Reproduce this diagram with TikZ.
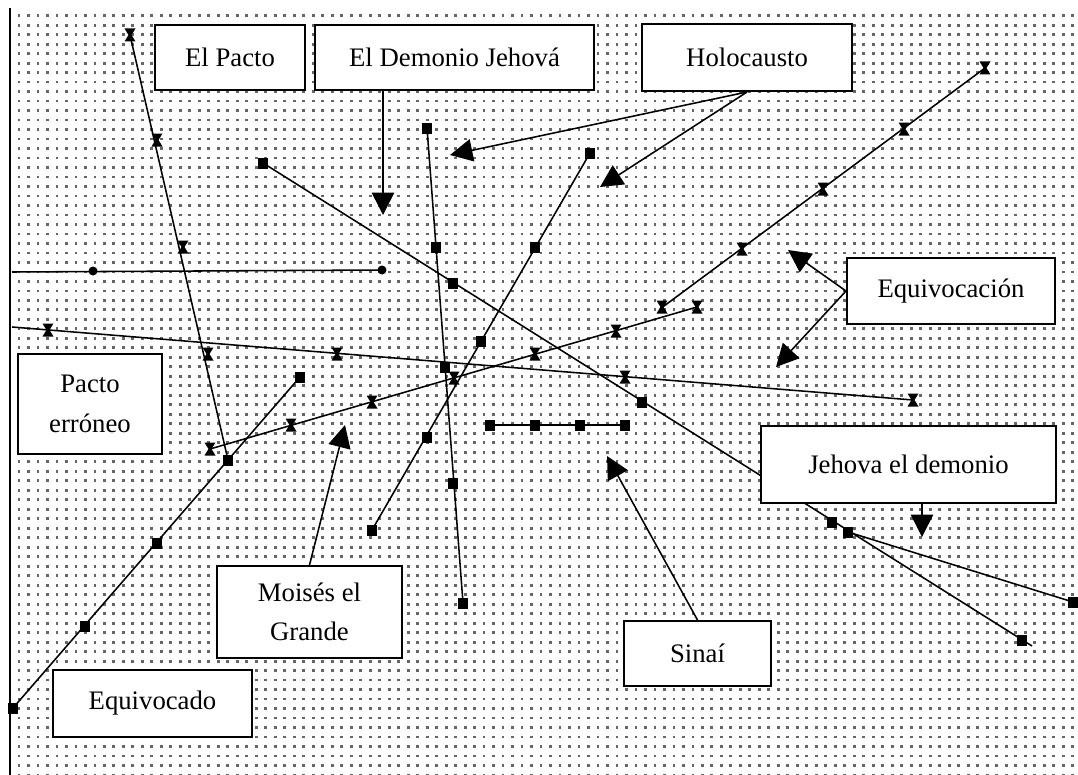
\documentclass[tikz,border=0pt]{standalone}
\usepackage{fontspec}
\setmainfont{Liberation Serif}
\usetikzlibrary{positioning, arrows.meta, patterns.meta}

\tikzdeclarepattern{
  name=griddots, type=uncolored,
  bottom left={(-1.2pt,-1.2pt)}, top right={(1.2pt,1.2pt)},
  tile size={(6.75pt,6.75pt)},
  code={\fill (-1pt,-1pt) rectangle (1pt,1pt);}
}

\begin{document}
\begin{tikzpicture}[
    x=0.025cm, y=-0.025cm,
    tagbox/.style={rectangle, draw, line width=1.4pt, fill=white, inner sep=0pt,
                   font=\fontsize{19}{28}\selectfont, align=center},
    arrow/.style={-{Triangle[length=16pt, width=16pt]}, line width=1.1pt},
    series/.style={line width=1.1pt},
    sqmark/.pic={\fill (-5,-5.5) rectangle (5,5.5);},
    hgmark/.pic={\fill (-5.5,-6.5) -- (5.5,-6.5) -- (1.5,0) -- (5.5,6.5) -- (-5.5,6.5) -- (-1.5,0) -- cycle;},
    dotmark/.pic={\fill (0,0) circle (4.5);},
]

%% BACKGROUND
    \useasboundingbox (0,0) rectangle (1078,775);
    \fill[white] (0,0) rectangle (1078,775);
    \fill[pattern=griddots, pattern color=black!60] (12,9) rectangle (1078,775);
    \draw[line width=1.4pt] (10,8) -- (10,775);

%% SERIES
    % falling line from the top left
    \draw[series] (130,35) -- (228,460);
    \foreach \x/\y in {130/35, 157/140, 183/247, 208/354}
        \pic at (\x,\y) {hgmark};

    % rising line from the bottom left
    \draw[series] (13,708) -- (300,377);
    \foreach \x/\y in {13/708, 85/626, 157/543, 228/460, 300/377}
        \pic at (\x,\y) {sqmark};

    % rising line through the middle
    \draw[series] (210,449) -- (697,307);
    \foreach \x/\y in {210/449, 291/425, 372/402, 454/378, 535/354, 616/331, 697/307}
        \pic at (\x,\y) {hgmark};

    % long line from the top right
    \draw[series] (985,68) -- (660,309);
    \foreach \x/\y in {985/68, 904/129, 823/189, 742/249, 662/307}
        \pic at (\x,\y) {hgmark};

    % nearly flat line
    \draw[series] (12,327) -- (913,400);
    \foreach \x/\y in {48/330, 337/354, 625/377, 913/400}
        \pic at (\x,\y) {hgmark};

    % flat line with dots
    \draw[series] (12,272) -- (382,270);
    \foreach \x/\y in {93/271, 382/270}
        \pic at (\x,\y) {dotmark};

    % long falling line
    \draw[series] (263,163) -- (1032,646);
    \foreach \x/\y in {263/163, 453/283, 642/402, 832/522, 1022/640}
        \pic at (\x,\y) {sqmark};

    % short branch on the right
    \draw[series] (848,532) -- (1073,602);
    \foreach \x/\y in {848/532, 1073/602}
        \pic at (\x,\y) {sqmark};

    % steep line
    \draw[series] (427,128) -- (463,603);
    \foreach \x/\y in {427/128, 436/247, 445/367, 453/483, 463/603}
        \pic at (\x,\y) {sqmark};

    % line falling to the left
    \draw[series] (590,153) -- (372,530);
    \foreach \x/\y in {590/153, 535/247, 481/341, 427/437, 372/530}
        \pic at (\x,\y) {sqmark};

    % short flat segment
    \draw[series] (490,425) -- (625,425);
    \foreach \x in {490, 535, 580, 625}
        \pic at (\x,425) {sqmark};

%% BOXES
    \node[tagbox, minimum width=3.75cm, minimum height=1.625cm] (pacto) at (230,57.5) {El Pacto};
    \node[tagbox, minimum width=6.975cm, minimum height=1.625cm, right=0.2cm of pacto] (demonio) {El Demonio Jehová};
    \node[tagbox, minimum width=5.25cm, minimum height=1.675cm, right=1.15cm of demonio] (holo) {Holocausto};
    \node[tagbox, minimum width=5.2cm, minimum height=1.65cm] (equivocacion) at (951,291) {Equivocación};
    \node[tagbox, minimum width=7.375cm, minimum height=1.925cm] (jehova) at (908.5,464.5) {Jehova el demonio};
    \node[tagbox, minimum width=3.6cm, minimum height=2.5cm] (erroneo) at (90,404) {Pacto\\erróneo};
    \node[tagbox, minimum width=4.625cm, minimum height=2.3cm] (moises) at (309.5,612) {Moisés el\\Grande};
    \node[tagbox, minimum width=4.975cm, minimum height=1.675cm] (equivocado) at (152.5,703.5) {Equivocado};
    \node[tagbox, minimum width=3.675cm, minimum height=1.625cm] (sinai) at (697.5,653.5) {Sinaí};

%% ARROWS
    \coordinate (demonio_tip) at (383,215);
    \coordinate (holo_tip_a) at (450,155);
    \coordinate (holo_tip_b) at (600,187);
    \coordinate (equiv_tip_a) at (788,250);
    \coordinate (equiv_tip_b) at (776,367);
    \coordinate (jehova_tip) at (922,537);
    \coordinate (moises_tip) at (345,425);
    \coordinate (sinai_tip) at (607,456);

    \draw[arrow] (demonio.south -| demonio_tip) -- (demonio_tip);
    \draw[arrow] (holo.south) -- (holo_tip_a);
    \draw[arrow] (holo.south) -- (holo_tip_b);
    \draw[arrow] (equivocacion.west) -- (equiv_tip_a);
    \draw[arrow] (equivocacion.west) -- (equiv_tip_b);
    \draw[arrow] (jehova.south -| jehova_tip) -- (jehova_tip);
    \draw[arrow] (moises.north) -- (moises_tip);
    \draw[arrow] (sinai.north) -- (sinai_tip);

\end{tikzpicture}
\end{document}
